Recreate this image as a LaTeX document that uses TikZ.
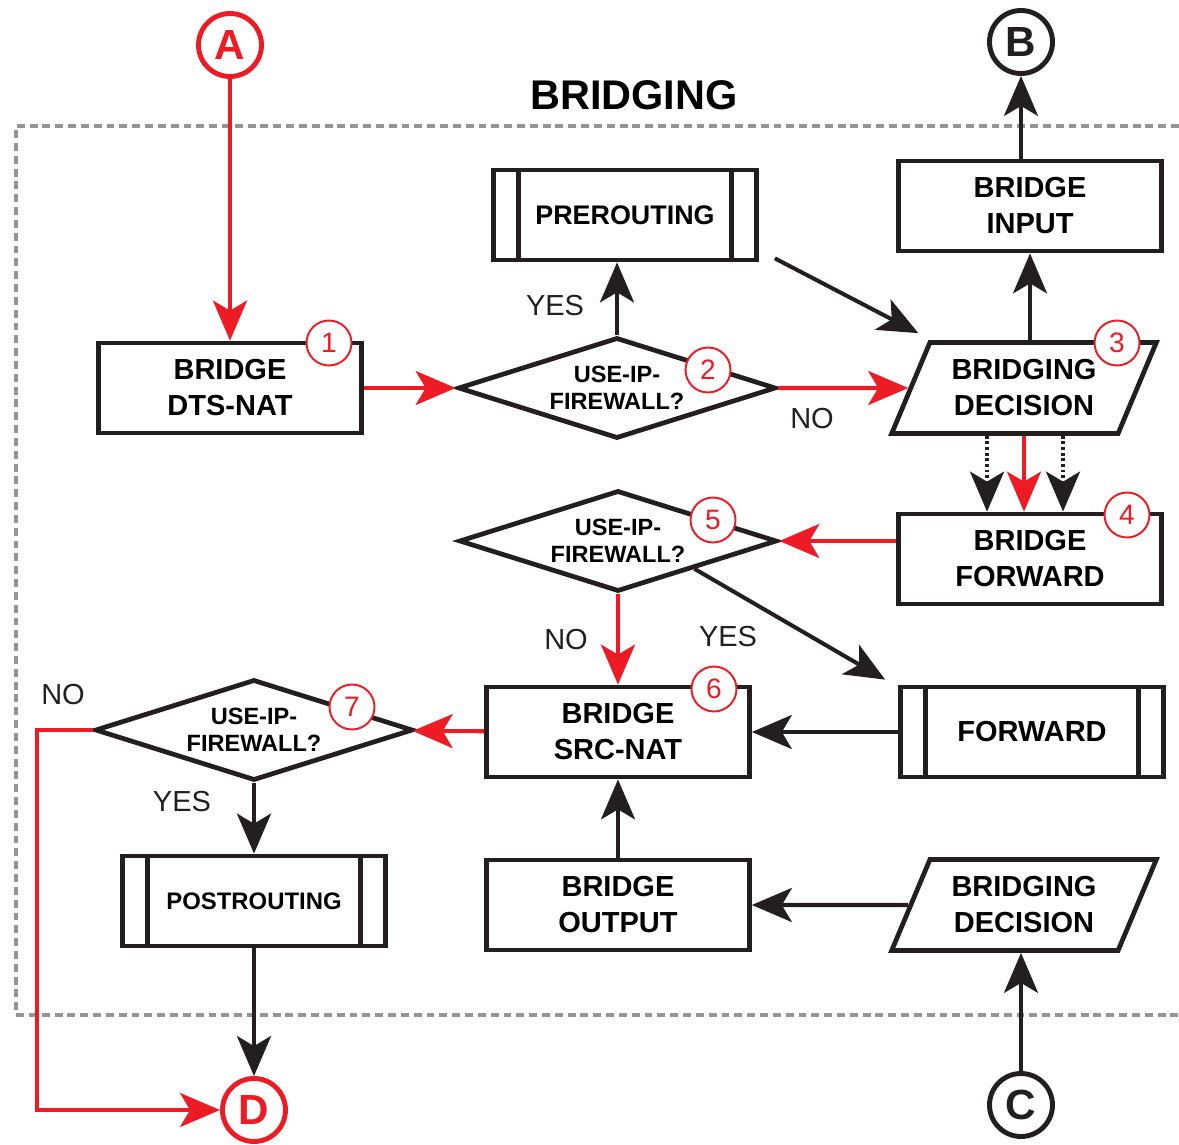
\documentclass[tikz,border=0pt]{standalone}
\usepackage{fontspec}
\setmainfont{Liberation Sans}
\usetikzlibrary{arrows.meta,shapes.geometric}
\definecolor{flowred}{HTML}{ED1C24}
\definecolor{flowblack}{HTML}{231F20}
\definecolor{framegray}{HTML}{939598}

\begin{document}
\begin{tikzpicture}[x=0.02cm, y=-0.02cm,
    >={Stealth[length=0.8cm, width=0.68cm, inset=0.2cm]},
    link/.style={->, line width=2.3pt, draw=flowblack},
    redlink/.style={->, line width=2.3pt, draw=flowred},
    dotlink/.style={->, line width=2.3pt, draw=flowblack, dash pattern=on 1.6pt off 1.6pt},
    box/.style={rectangle, draw=flowblack, line width=2.7pt, minimum width=5.26cm, minimum height=1.8cm, align=center, font=\bfseries\fontsize{16.5}{20.5}\selectfont},
    choice/.style={diamond, aspect=3.15, draw=flowblack, line width=2.7pt, minimum width=6.36cm, minimum height=2.02cm, inner sep=0pt, align=center, font=\bfseries\fontsize{13.4}{15.4}\selectfont},
    decide/.style={trapezium, trapezium left angle=65, trapezium right angle=115, trapezium stretches=true, draw=flowblack, line width=2.7pt, minimum width=5.3cm, minimum height=1.82cm, align=center, font=\bfseries\fontsize{16.5}{20.5}\selectfont},
    badge/.style={circle, draw=flowred, fill=white, line width=1.1pt, minimum size=0.9cm, inner sep=0pt, text=flowred, font=\fontsize{16}{16}\selectfont},
    port/.style={circle, draw=#1, text=#1, line width=2.8pt, minimum size=1.26cm, inner sep=0pt, font=\bfseries\fontsize{24}{24}\selectfont},
    answer/.style={text=flowblack, font=\fontsize{16.5}{16.5}\selectfont}]

    \useasboundingbox (0, 0) rectangle (1179, 1145);

    % frame of the bridging part
    \draw[framegray, line width=2.6pt, dash pattern=on 4.5pt off 2.8pt] (1179, 126) -- (16, 126) -- (16, 1015) -- (1179, 1015);
    \node[font=\bfseries\fontsize{23.6}{23.6}\selectfont] at (634, 95) (title) {BRIDGING};

    \node[port=flowred] at (230, 45) (A) {A};
    \node[port=flowblack] at (1021, 42) (B) {B};
    \node[port=flowblack] at (1021, 1105) (C) {C};
    \node[port=flowred] at (254, 1110) (D) {D};

    \node[box] at (230, 388) (dts) {BRIDGE\\DTS-NAT};
    \node[choice] at (617, 388) (ipf2) {USE-IP-\\FIREWALL?};
    \node[box, font=\bfseries\fontsize{15.3}{15.3}\selectfont] at (625, 215) (pre) {PREROUTING};
    \node[box] at (1030, 206) (inp) {BRIDGE\\INPUT};
    \node[decide] at (1024, 388) (dec1) {BRIDGING\\DECISION};
    \node[box] at (1030, 559) (fwdb) {BRIDGE\\FORWARD};
    \node[choice] at (618, 541) (ipf5) {USE-IP-\\FIREWALL?};
    \node[box] at (1032, 732) (fwd) {FORWARD};
    \node[box] at (618, 732) (snat) {BRIDGE\\SRC-NAT};
    \node[choice] at (254, 730) (ipf7) {USE-IP-\\FIREWALL?};
    \node[box, font=\bfseries\fontsize{13.6}{13.6}\selectfont] at (254, 901) (post) {POSTROUTING};
    \node[box] at (618, 905) (outb) {BRIDGE\\OUTPUT};
    \node[decide] at (1024, 905) (dec2) {BRIDGING\\DECISION};

    % side bars of the hook boxes
    \draw[flowblack, line width=2.7pt] ([xshift=0.54cm]pre.north west) -- ([xshift=0.54cm]pre.south west);
    \draw[flowblack, line width=2.7pt] ([xshift=-0.54cm]pre.north east) -- ([xshift=-0.54cm]pre.south east);
    \draw[flowblack, line width=2.7pt] ([xshift=0.54cm]fwd.north west) -- ([xshift=0.54cm]fwd.south west);
    \draw[flowblack, line width=2.7pt] ([xshift=-0.54cm]fwd.north east) -- ([xshift=-0.54cm]fwd.south east);
    \draw[flowblack, line width=2.7pt] ([xshift=0.54cm]post.north west) -- ([xshift=0.54cm]post.south west);
    \draw[flowblack, line width=2.7pt] ([xshift=-0.54cm]post.north east) -- ([xshift=-0.54cm]post.south east);

    \node[badge] at (329, 343) (n1) {1};
    \node[badge] at (708, 370) (n2) {2};
    \node[badge] at (1117, 343) (n3) {3};
    \node[badge] at (1127, 515) (n4) {4};
    \node[badge] at (713, 520) (n5) {5};
    \node[badge] at (714, 689) (n6) {6};
    \node[badge] at (352, 707) (n7) {7};

    \node[answer] at (555, 306) (yes2) {YES};
    \node[answer] at (812, 419) (no2) {NO};
    \node[answer] at (566, 640) (no5) {NO};
    \node[answer] at (728, 637) (yes5) {YES};
    \node[answer] at (63, 695) (no7) {NO};
    \node[answer] at (182, 802) (yes7) {YES};

    \draw[redlink] (A) -- (dts);
    \draw[redlink] (dts) -- (ipf2);
    \draw[redlink] (ipf2) -- (dec1);
    \draw[link] (ipf2.north) -- (ipf2.north |- pre.south);
    \draw[link] ([xshift=0.32cm, yshift=0.08cm]pre.south east) -- ([xshift=-0.2cm, yshift=0.14cm]dec1.top left corner);
    \draw[link] (inp |- dec1.north) -- (inp);
    \draw[link] (B |- inp.north) -- (B);
    \draw[dotlink] ([xshift=-0.74cm]dec1.south) -- ([xshift=-0.74cm]dec1.south |- fwdb.north);
    \draw[redlink] (dec1.south) -- (dec1.south |- fwdb.north);
    \draw[dotlink] ([xshift=0.78cm]dec1.south) -- ([xshift=0.78cm]dec1.south |- fwdb.north);
    \draw[redlink] (fwdb.west |- ipf5) -- (ipf5.east);
    \draw[redlink] (ipf5.south) -- (ipf5.south |- snat.north);
    \draw[link] (ipf5.-20) -- ([xshift=-0.26cm, yshift=0.1cm]fwd.north west);
    \draw[link] (fwd) -- (snat);
    \draw[redlink] (snat) -- (ipf7);
    \draw[link] (ipf7.south) -- (post.north);
    \draw[link] (post) -- (D);
    \draw[link] (outb) -- (snat);
    \draw[link] (dec2) -- (outb);
    \draw[link] (C) -- (C |- dec2.south);
    \draw[redlink] (ipf7.west) -- ++(-56, 0) |- (D);
\end{tikzpicture}
\end{document}
